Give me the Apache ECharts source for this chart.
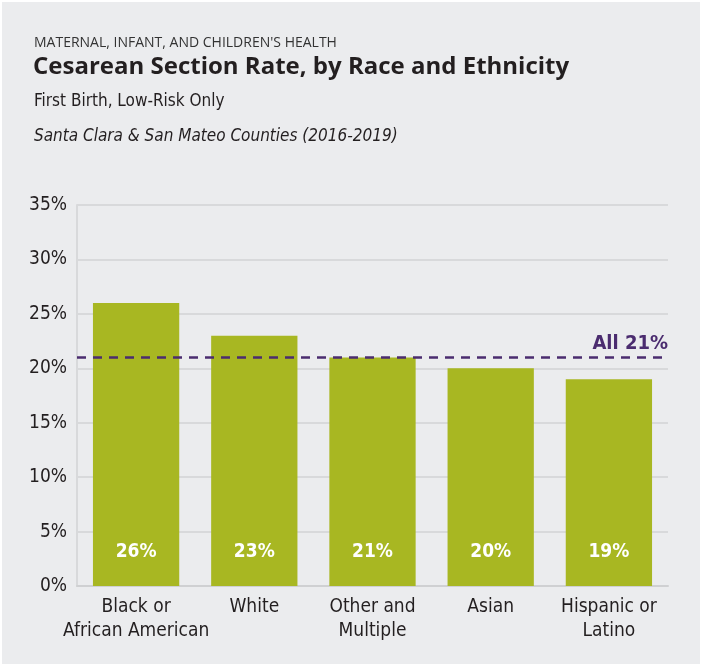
<!DOCTYPE html>
<html>
<head>
<meta charset="utf-8">
<script src="https://cdn.jsdelivr.net/npm/echarts@6/dist/echarts.min.js"></script>
<style>
  html, body { margin: 0; padding: 0; background: #ffffff; }
  #chart { position: absolute; left: 2px; top: 2px; width: 698px; height: 662px; background: #ebecee; }
</style>
</head>
<body>
<div id="chart"></div>
<script>
// chart data
const categories = ['Black or\nAfrican American', 'White', 'Other and\nMultiple', 'Asian', 'Hispanic or\nLatino']
const rates = [26, 23, 21, 20, 19]
const allRate = 21
const yTicks = { min: 0, max: 35, interval: 5 }

const condensed = "'Liberation Sans Narrow', 'DejaVu Sans Condensed', 'Open Sans', sans-serif"
const headFont = "'Open Sans', 'Noto Sans', sans-serif"

const myChart = echarts.init(document.getElementById('chart'))
const option = {
  animation: false,
  title: [
    { text: "MATERNAL, INFANT, AND CHILDREN'S HEALTH", left: 27, top: 29,
      textStyle: { fontFamily: headFont, fontSize: 14, fontWeight: 'normal', color: '#333' } },
    { text: 'Cesarean Section Rate, by Race and Ethnicity', left: 26, top: 48,
      textStyle: { fontFamily: headFont, fontSize: 24, fontWeight: 'bold', color: '#231f20' } },
    { text: 'First Birth, Low-Risk Only', left: 27, top: 86,
      textStyle: { fontFamily: condensed, fontSize: 17, fontWeight: 'normal', color: '#231f20' } },
    { text: 'Santa Clara & San Mateo Counties (2016-2019)', left: 27, top: 121,
      textStyle: { fontFamily: condensed, fontSize: 17, fontStyle: 'italic', fontWeight: 'normal', color: '#231f20' } }
  ],
  grid: { left: 75, right: 32, top: 203, bottom: 78 },
  xAxis: {
    type: 'category',
    data: categories,
    axisLine: { show: true, lineStyle: { color: '#cfd0d2', width: 2 } },
    axisTick: { show: false },
    axisLabel: { fontFamily: condensed, fontSize: 19, color: '#231f20', lineHeight: 24, margin: 9, interval: 0 }
  },
  yAxis: {
    type: 'value',
    min: yTicks.min,
    max: yTicks.max,
    interval: yTicks.interval,
    axisLine: { show: true, lineStyle: { color: '#d8d9db', width: 2 } },
    axisTick: { show: false },
    axisLabel: { formatter: '{value}%', fontFamily: condensed, fontSize: 19, color: '#231f20', margin: 10 },
    splitLine: { lineStyle: { color: '#d8d9db', width: 2 } }
  },
  series: [
    {
      type: 'bar',
      data: rates,
      barWidth: '73%',
      itemStyle: { color: '#a8b722' },
      label: {
        show: true,
        position: 'insideBottom',
        distance: 24,
        formatter: '{c}%',
        fontFamily: condensed,
        fontSize: 19,
        fontWeight: 'bold',
        color: '#ffffff'
      },
      markLine: {
        silent: true,
        symbol: ['none', 'none'],
        lineStyle: { color: '#4b2c6f', type: [9, 7], width: 2.5 },
        label: {
          position: 'insideEndTop',
          formatter: 'All ' + allRate + '%',
          fontFamily: condensed,
          fontSize: 20,
          fontWeight: 'bold',
          color: '#4b2c6f',
          distance: [0, 4]
        },
        data: [{ yAxis: allRate }]
      }
    }
  ]
}
myChart.setOption(option)
</script>
</body>
</html>
